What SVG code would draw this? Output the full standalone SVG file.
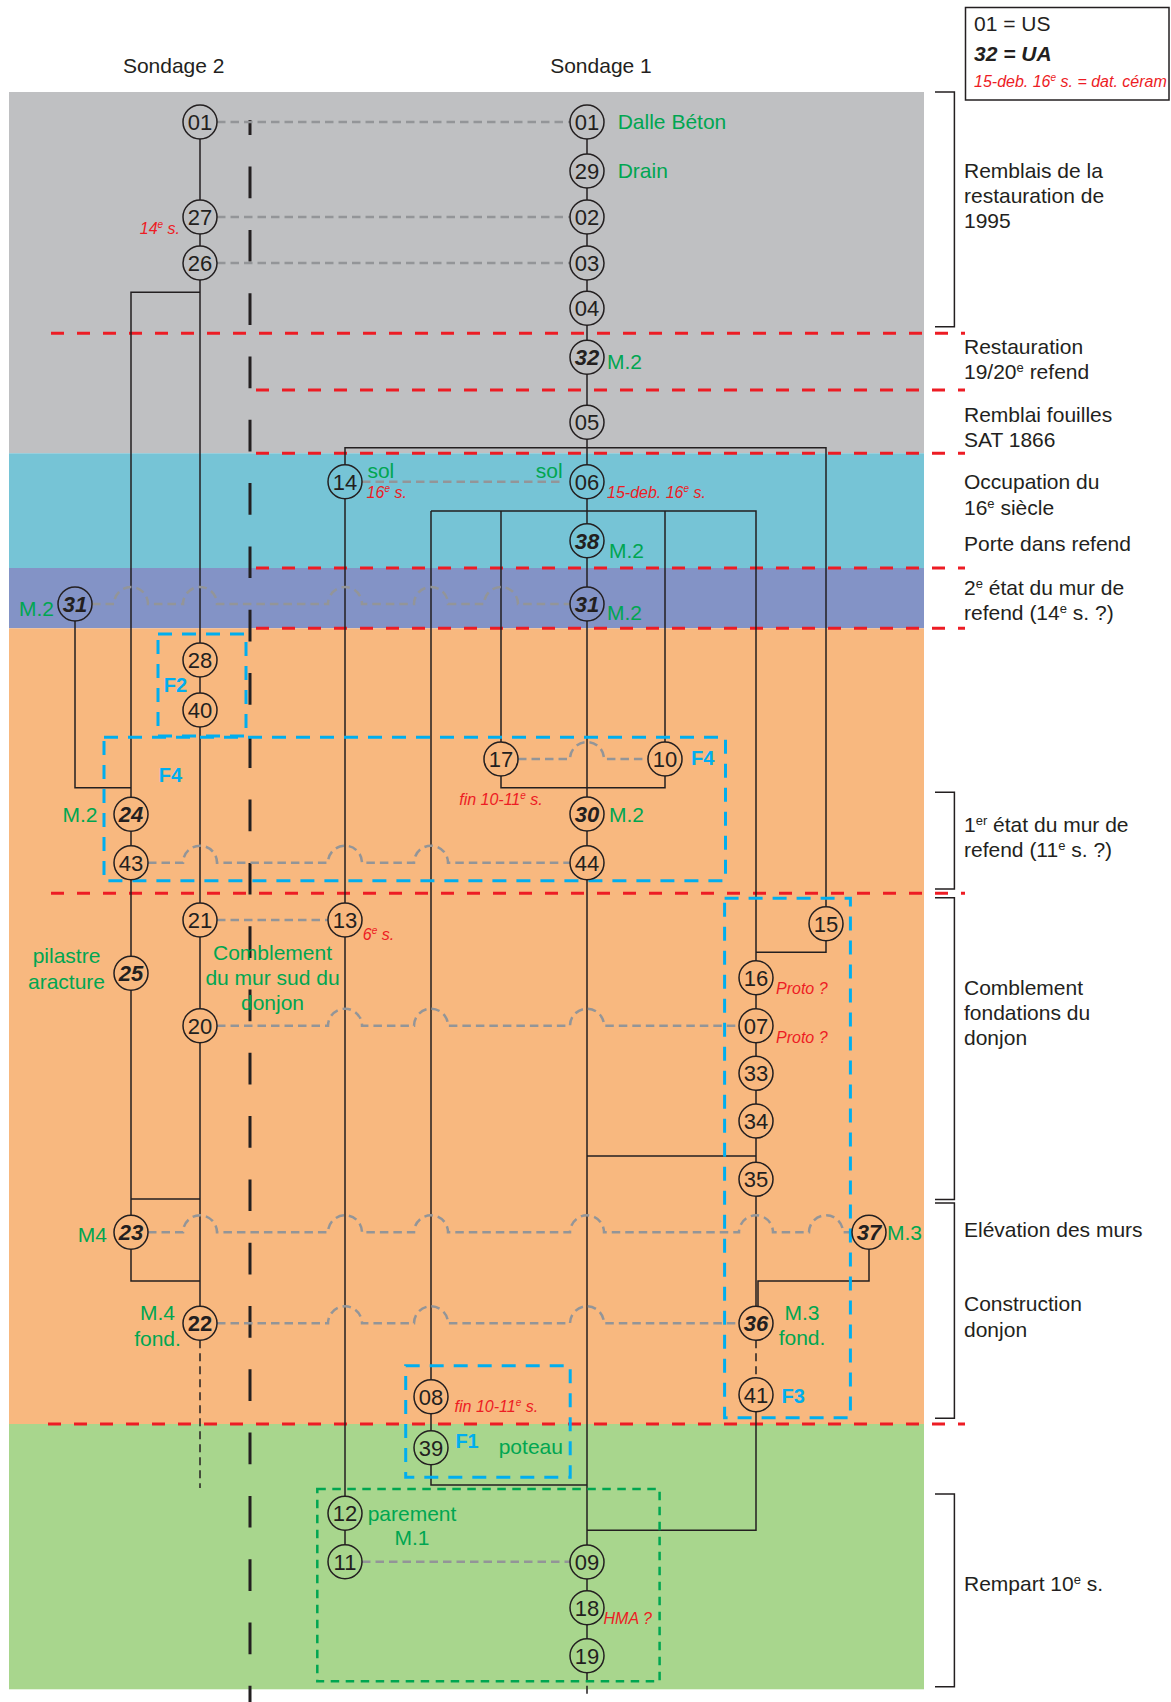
<svg xmlns="http://www.w3.org/2000/svg" width="1171" height="1702" viewBox="0 0 1171 1702">
<style>
text{font-family:"Liberation Sans",Arial,sans-serif}
.t{font-size:21px;fill:#231F20}
.g{font-size:21px;fill:#00A651}
.r{font-size:16px;fill:#ED1C24;font-style:italic}
.b{font-size:20px;fill:#00AEEF;font-weight:bold}
.n circle{stroke:#231F20;stroke-width:1.5}
.n text{font-size:22px;text-anchor:middle;fill:#231F20}
.bi text{font-weight:bold;font-style:italic}
.bo text{font-weight:bold}
.cg circle{fill:#BFC0C2}.cb circle{fill:#76C4D6}.cp circle{fill:#8393C6}.co circle{fill:#F8B87F}.cv circle{fill:#A8D68D}
.ln{fill:none;stroke:#231F20;stroke-width:1.5}
.tn{fill:none;stroke:#231F20;stroke-width:1.5;stroke-dasharray:8 5}
.gd{fill:none;stroke:#939598;stroke-width:2.5;stroke-dasharray:8.5 5}
.rd{stroke:#ED1C24;stroke-width:3;stroke-dasharray:13 13}
.bd{fill:none;stroke:#00AEEF;stroke-width:3;stroke-dasharray:14 10}
.grd{fill:none;stroke:#00A651;stroke-width:2.5;stroke-dasharray:8.5 6.5}
.br{fill:none;stroke:#231F20;stroke-width:1.5}
.mid{text-anchor:middle}
.end{text-anchor:end}
</style>
<rect width="1171" height="1702" fill="#fff"/>
<g id="bands">
<rect x="9" y="92" width="915" height="361.3" fill="#BFC0C2"/>
<rect x="9" y="453.3" width="915" height="114.7" fill="#76C4D6"/>
<rect x="9" y="568" width="915" height="60.3" fill="#8393C6"/>
<rect x="9" y="628.3" width="915" height="795.7" fill="#F8B87F"/>
<rect x="9" y="1424" width="915" height="265.3" fill="#A8D68D"/>
</g>
<g id="limits">
<line class="rd" x1="51" y1="333.3" x2="965" y2="333.3"/>
<line class="rd" x1="256" y1="390" x2="965" y2="390"/>
<line class="rd" x1="256" y1="453.3" x2="965" y2="453.3"/>
<line class="rd" x1="256" y1="568" x2="965" y2="568"/>
<line class="rd" x1="256" y1="628.3" x2="965" y2="628.3"/>
<line class="rd" x1="51" y1="893.3" x2="965" y2="893.3"/>
<line class="rd" x1="48" y1="1424" x2="965" y2="1424"/>
<line x1="250" y1="120" x2="250" y2="1702" stroke="#231F20" stroke-width="3" stroke-dasharray="31.7 31.6" stroke-dashoffset="16.7"/>
</g>
<g id="brackets">
<path class="br" d="M935 92 H954.4 V326.7 H935"/>
<path class="br" d="M935 792.3 H954.4 V889 H935"/>
<path class="br" d="M935 897.7 H954.4 V1199.5 H935"/>
<path class="br" d="M935 1203 H954.4 V1418.3 H935"/>
<path class="br" d="M935 1494 H954.4 V1686.7 H935"/>
</g>
<g id="connectors">
<path class="ln" d="M200 122 V1323.3"/>
<path class="ln" d="M200 292.3 H131 V1281 H200"/>
<path class="ln" d="M131 1199 H200"/>
<path class="ln" d="M75 604 V787.7 H131"/>
<path class="ln" d="M587 122 V1655.7"/>
<path class="ln" d="M345 1561.7 V447.7 H826 V952.3 H756"/>
<path class="ln" d="M431 511 H756 V1323.3"/>
<path class="ln" d="M431 511 V1485 H587"/>
<path class="ln" d="M501 511 V787.7 H665 V511"/>
<path class="ln" d="M587 1156 H756"/>
<path class="ln" d="M756 1394.7 V1530.3 H587"/>
<path class="ln" d="M869 1232.3 V1281 H758 V1308"/>
<path class="tn" d="M200 1340.3 V1488"/>
<path class="tn" d="M756 1340.3 V1377.7"/>
<path class="tn" d="M587 1672.7 V1697"/>
<path class="gd" d="M217 122 H570"/>
<path class="gd" d="M217 217 H570"/>
<path class="gd" d="M217 263 H570"/>
<path class="gd" d="M362 481.7 H563"/>
<path class="gd" d="M92 604 H114 A17 17 0 0 1 148 604 H183 A17 17 0 0 1 217 604 H328 A17 17 0 0 1 362 604 H414 A17 17 0 0 1 448 604 H484 A17 17 0 0 1 518 604 H570"/>
<path class="gd" d="M518 759 H570 A17 17 0 0 1 604 759 H648"/>
<path class="gd" d="M148 862.7 H183 A17 17 0 0 1 217 862.7 H328 A17 17 0 0 1 362 862.7 H414 A17 17 0 0 1 448 862.7 H570"/>
<path class="gd" d="M217 920 H328"/>
<path class="gd" d="M217 1025.7 H328 A17 17 0 0 1 362 1025.7 H414 A17 17 0 0 1 448 1025.7 H570 A17 17 0 0 1 604 1025.7 H739"/>
<path class="gd" d="M148 1232.3 H183 A17 17 0 0 1 217 1232.3 H328 A17 17 0 0 1 362 1232.3 H414 A17 17 0 0 1 448 1232.3 H570 A17 17 0 0 1 604 1232.3 H739 A17 17 0 0 1 773 1232.3 H809 A17 17 0 0 1 843 1232.3 H852"/>
<path class="gd" d="M217 1323.3 H328 A17 17 0 0 1 362 1323.3 H414 A17 17 0 0 1 448 1323.3 H570 A17 17 0 0 1 604 1323.3 H739"/>
<path class="gd" d="M362 1561.7 H570"/>
</g>
<g id="features">
<rect class="bd" x="158" y="634" width="88" height="102"/>
<rect class="bd" x="104" y="737.3" width="621.5" height="143.4"/>
<rect class="bd" x="724.6" y="898.3" width="125.8" height="519.4"/>
<rect class="bd" x="405.7" y="1365.7" width="164.5" height="111.6"/>
<rect class="grd" x="317.3" y="1489" width="342.3" height="192.3"/>
<text class="b" x="163.8" y="692.3">F2</text>
<text class="b" x="158.8" y="781.7">F4</text>
<text class="b" x="691" y="765">F4</text>
<text class="b" x="781.6" y="1403.3">F3</text>
<text class="b" x="455.4" y="1447.7">F1</text>
</g>
<g id="nodes">
<g id="s2-01" class="n cg"><circle cx="200" cy="122" r="17"/><text x="200" y="130">01</text></g>
<g id="s2-27" class="n cg"><circle cx="200" cy="217" r="17"/><text x="200" y="225">27</text></g>
<g id="s2-26" class="n cg"><circle cx="200" cy="263" r="17"/><text x="200" y="271">26</text></g>
<g id="s2-31" class="n cp bi"><circle cx="75" cy="604" r="17"/><text x="75" y="612">31</text></g>
<g id="s2-28" class="n co"><circle cx="200" cy="660" r="17"/><text x="200" y="668">28</text></g>
<g id="s2-40" class="n co"><circle cx="200" cy="710" r="17"/><text x="200" y="718">40</text></g>
<g id="s2-24" class="n co bi"><circle cx="131" cy="814.3" r="17"/><text x="131" y="822.3">24</text></g>
<g id="s2-43" class="n co"><circle cx="131" cy="862.7" r="17"/><text x="131" y="870.7">43</text></g>
<g id="s2-21" class="n co"><circle cx="200" cy="920" r="17"/><text x="200" y="928">21</text></g>
<g id="s2-25" class="n co bi"><circle cx="131" cy="973.3" r="17"/><text x="131" y="981.3">25</text></g>
<g id="s2-20" class="n co"><circle cx="200" cy="1025.7" r="17"/><text x="200" y="1033.7">20</text></g>
<g id="s2-23" class="n co bi"><circle cx="131" cy="1232.3" r="17"/><text x="131" y="1240.3">23</text></g>
<g id="s2-22" class="n co bo"><circle cx="200" cy="1323.3" r="17"/><text x="200" y="1331.3">22</text></g>
<g id="s1-14" class="n cb"><circle cx="345" cy="481.7" r="17"/><text x="345" y="489.7">14</text></g>
<g id="s1-13" class="n co"><circle cx="345" cy="920" r="17"/><text x="345" y="928">13</text></g>
<g id="s1-12" class="n cv"><circle cx="345" cy="1513.3" r="17"/><text x="345" y="1521.3">12</text></g>
<g id="s1-11" class="n cv"><circle cx="345" cy="1561.7" r="17"/><text x="345" y="1569.7">11</text></g>
<g id="s1-08" class="n co"><circle cx="431" cy="1396.7" r="17"/><text x="431" y="1404.7">08</text></g>
<g id="s1-39" class="n cv"><circle cx="431" cy="1447.7" r="17"/><text x="431" y="1455.7">39</text></g>
<g id="s1-17" class="n co"><circle cx="501" cy="759" r="17"/><text x="501" y="767">17</text></g>
<g id="s1-10" class="n co"><circle cx="665" cy="759" r="17"/><text x="665" y="767">10</text></g>
<g id="s1-01" class="n cg"><circle cx="587" cy="122" r="17"/><text x="587" y="130">01</text></g>
<g id="s1-29" class="n cg"><circle cx="587" cy="171" r="17"/><text x="587" y="179">29</text></g>
<g id="s1-02" class="n cg"><circle cx="587" cy="217" r="17"/><text x="587" y="225">02</text></g>
<g id="s1-03" class="n cg"><circle cx="587" cy="263" r="17"/><text x="587" y="271">03</text></g>
<g id="s1-04" class="n cg"><circle cx="587" cy="308.3" r="17"/><text x="587" y="316.3">04</text></g>
<g id="s1-32" class="n cg bi"><circle cx="587" cy="357.3" r="17"/><text x="587" y="365.3">32</text></g>
<g id="s1-05" class="n cg"><circle cx="587" cy="422.3" r="17"/><text x="587" y="430.3">05</text></g>
<g id="s1-06" class="n cb"><circle cx="587" cy="481.7" r="17"/><text x="587" y="489.7">06</text></g>
<g id="s1-38" class="n cb bi"><circle cx="587" cy="540.7" r="17"/><text x="587" y="548.7">38</text></g>
<g id="s1-31" class="n cp bi"><circle cx="587" cy="604" r="17"/><text x="587" y="612">31</text></g>
<g id="s1-30" class="n co bi"><circle cx="587" cy="814" r="17"/><text x="587" y="822">30</text></g>
<g id="s1-44" class="n co"><circle cx="587" cy="862.7" r="17"/><text x="587" y="870.7">44</text></g>
<g id="s1-09" class="n cv"><circle cx="587" cy="1562" r="17"/><text x="587" y="1570">09</text></g>
<g id="s1-18" class="n cv"><circle cx="587" cy="1607.7" r="17"/><text x="587" y="1615.7">18</text></g>
<g id="s1-19" class="n cv"><circle cx="587" cy="1655.7" r="17"/><text x="587" y="1663.7">19</text></g>
<g id="s1-15" class="n co"><circle cx="826" cy="923.7" r="17"/><text x="826" y="931.7">15</text></g>
<g id="s1-16" class="n co"><circle cx="756" cy="977.7" r="17"/><text x="756" y="985.7">16</text></g>
<g id="s1-07" class="n co"><circle cx="756" cy="1025.7" r="17"/><text x="756" y="1033.7">07</text></g>
<g id="s1-33" class="n co"><circle cx="756" cy="1073.3" r="17"/><text x="756" y="1081.3">33</text></g>
<g id="s1-34" class="n co"><circle cx="756" cy="1121" r="17"/><text x="756" y="1129">34</text></g>
<g id="s1-35" class="n co"><circle cx="756" cy="1179.3" r="17"/><text x="756" y="1187.3">35</text></g>
<g id="s1-37" class="n co bi"><circle cx="869" cy="1232.3" r="17"/><text x="869" y="1240.3">37</text></g>
<g id="s1-36" class="n co bi"><circle cx="756" cy="1323.3" r="17"/><text x="756" y="1331.3">36</text></g>
<g id="s1-41" class="n co"><circle cx="756" cy="1394.7" r="17"/><text x="756" y="1402.7">41</text></g>
</g>
<g id="labels">
<text class="t mid" x="173.7" y="73.3">Sondage 2</text>
<text class="t mid" x="601" y="73.3">Sondage 1</text>
<text class="g" x="617.7" y="129.3">Dalle Béton</text>
<text class="g" x="617.7" y="178.3">Drain</text>
<text class="g" x="607" y="369">M.2</text>
<text class="g" x="609" y="557.7">M.2</text>
<text class="g" x="607" y="620">M.2</text>
<text class="g" x="19" y="616">M.2</text>
<text class="g" x="367.4" y="477.7">sol</text>
<text class="g" x="535.8" y="477.7">sol</text>
<text class="g" x="62.4" y="821.7">M.2</text>
<text class="g" x="609" y="821.7">M.2</text>
<text class="g mid" x="66.5" y="963.3">pilastre</text>
<text class="g mid" x="66.5" y="989.3">aracture</text>
<text class="g mid" x="272.5" y="960">Comblement</text>
<text class="g mid" x="272.5" y="985">du mur sud du</text>
<text class="g mid" x="272.5" y="1010">donjon</text>
<text class="g" x="77.7" y="1241.7">M4</text>
<text class="g mid" x="157.5" y="1320">M.4</text>
<text class="g mid" x="157.5" y="1346">fond.</text>
<text class="g" x="887" y="1240">M.3</text>
<text class="g mid" x="802" y="1320">M.3</text>
<text class="g mid" x="802" y="1345">fond.</text>
<text class="g" x="498.7" y="1454.3">poteau</text>
<text class="g mid" x="412" y="1520.7">parement</text>
<text class="g mid" x="412" y="1545">M.1</text>
<text class="r end" x="180" y="234">14<tspan dy="-6" font-size="10">e</tspan><tspan dy="6"> s.</tspan></text>
<text class="r" x="366.6" y="498.3">16<tspan dy="-6" font-size="10">e</tspan><tspan dy="6"> s.</tspan></text>
<text class="r" x="607" y="498.3">15-deb. 16<tspan dy="-6" font-size="10">e</tspan><tspan dy="6"> s.</tspan></text>
<text class="r" x="459.2" y="805">fin 10-11<tspan dy="-6" font-size="10">e</tspan><tspan dy="6"> s.</tspan></text>
<text class="r" x="362.8" y="940">6<tspan dy="-6" font-size="10">e</tspan><tspan dy="6"> s.</tspan></text>
<text class="r" x="776" y="994.3">Proto ?</text>
<text class="r" x="776" y="1042.7">Proto ?</text>
<text class="r" x="454.6" y="1411.7">fin 10-11<tspan dy="-6" font-size="10">e</tspan><tspan dy="6"> s.</tspan></text>
<text class="r" x="603.5" y="1624">HMA ?</text>
</g>
<g id="periods">
<text class="t" x="964" y="178.3">Remblais de la</text>
<text class="t" x="964" y="203.3">restauration de</text>
<text class="t" x="964" y="228.3">1995</text>
<text class="t" x="964" y="354">Restauration</text>
<text class="t" x="964" y="379.3">19/20<tspan dy="-7" font-size="13">e</tspan><tspan dy="7"> refend</tspan></text>
<text class="t" x="964" y="421.7">Remblai fouilles</text>
<text class="t" x="964" y="446.7">SAT 1866</text>
<text class="t" x="964" y="489.3">Occupation du</text>
<text class="t" x="964" y="515">16<tspan dy="-7" font-size="13">e</tspan><tspan dy="7"> siècle</tspan></text>
<text class="t" x="964" y="550.7">Porte dans refend</text>
<text class="t" x="964" y="595">2<tspan dy="-7" font-size="13">e</tspan><tspan dy="7"> état du mur de</tspan></text>
<text class="t" x="964" y="620">refend (14<tspan dy="-7" font-size="13">e</tspan><tspan dy="7"> s. ?)</tspan></text>
<text class="t" x="964" y="831.7">1<tspan dy="-7" font-size="13">er</tspan><tspan dy="7"> état du mur de</tspan></text>
<text class="t" x="964" y="856.7">refend (11<tspan dy="-7" font-size="13">e</tspan><tspan dy="7"> s. ?)</tspan></text>
<text class="t" x="964" y="995">Comblement</text>
<text class="t" x="964" y="1020">fondations du</text>
<text class="t" x="964" y="1045">donjon</text>
<text class="t" x="964" y="1236.7">Elévation des murs</text>
<text class="t" x="964" y="1310.7">Construction</text>
<text class="t" x="964" y="1336.7">donjon</text>
<text class="t" x="964" y="1590.7">Rempart 10<tspan dy="-7" font-size="13">e</tspan><tspan dy="7"> s.</tspan></text>
</g>
<g id="legend">
<rect x="965.5" y="7.5" width="203.5" height="92.5" fill="#fff" stroke="#231F20" stroke-width="1.5"/>
<text class="t" x="974" y="31">01 = US</text>
<text class="t" x="974" y="61" font-weight="bold" font-style="italic">32 = UA</text>
<text class="r" x="974" y="87.3">15-deb. 16<tspan dy="-6" font-size="10">e</tspan><tspan dy="6"> s. = dat. céram</tspan></text>
</g>
</svg>
